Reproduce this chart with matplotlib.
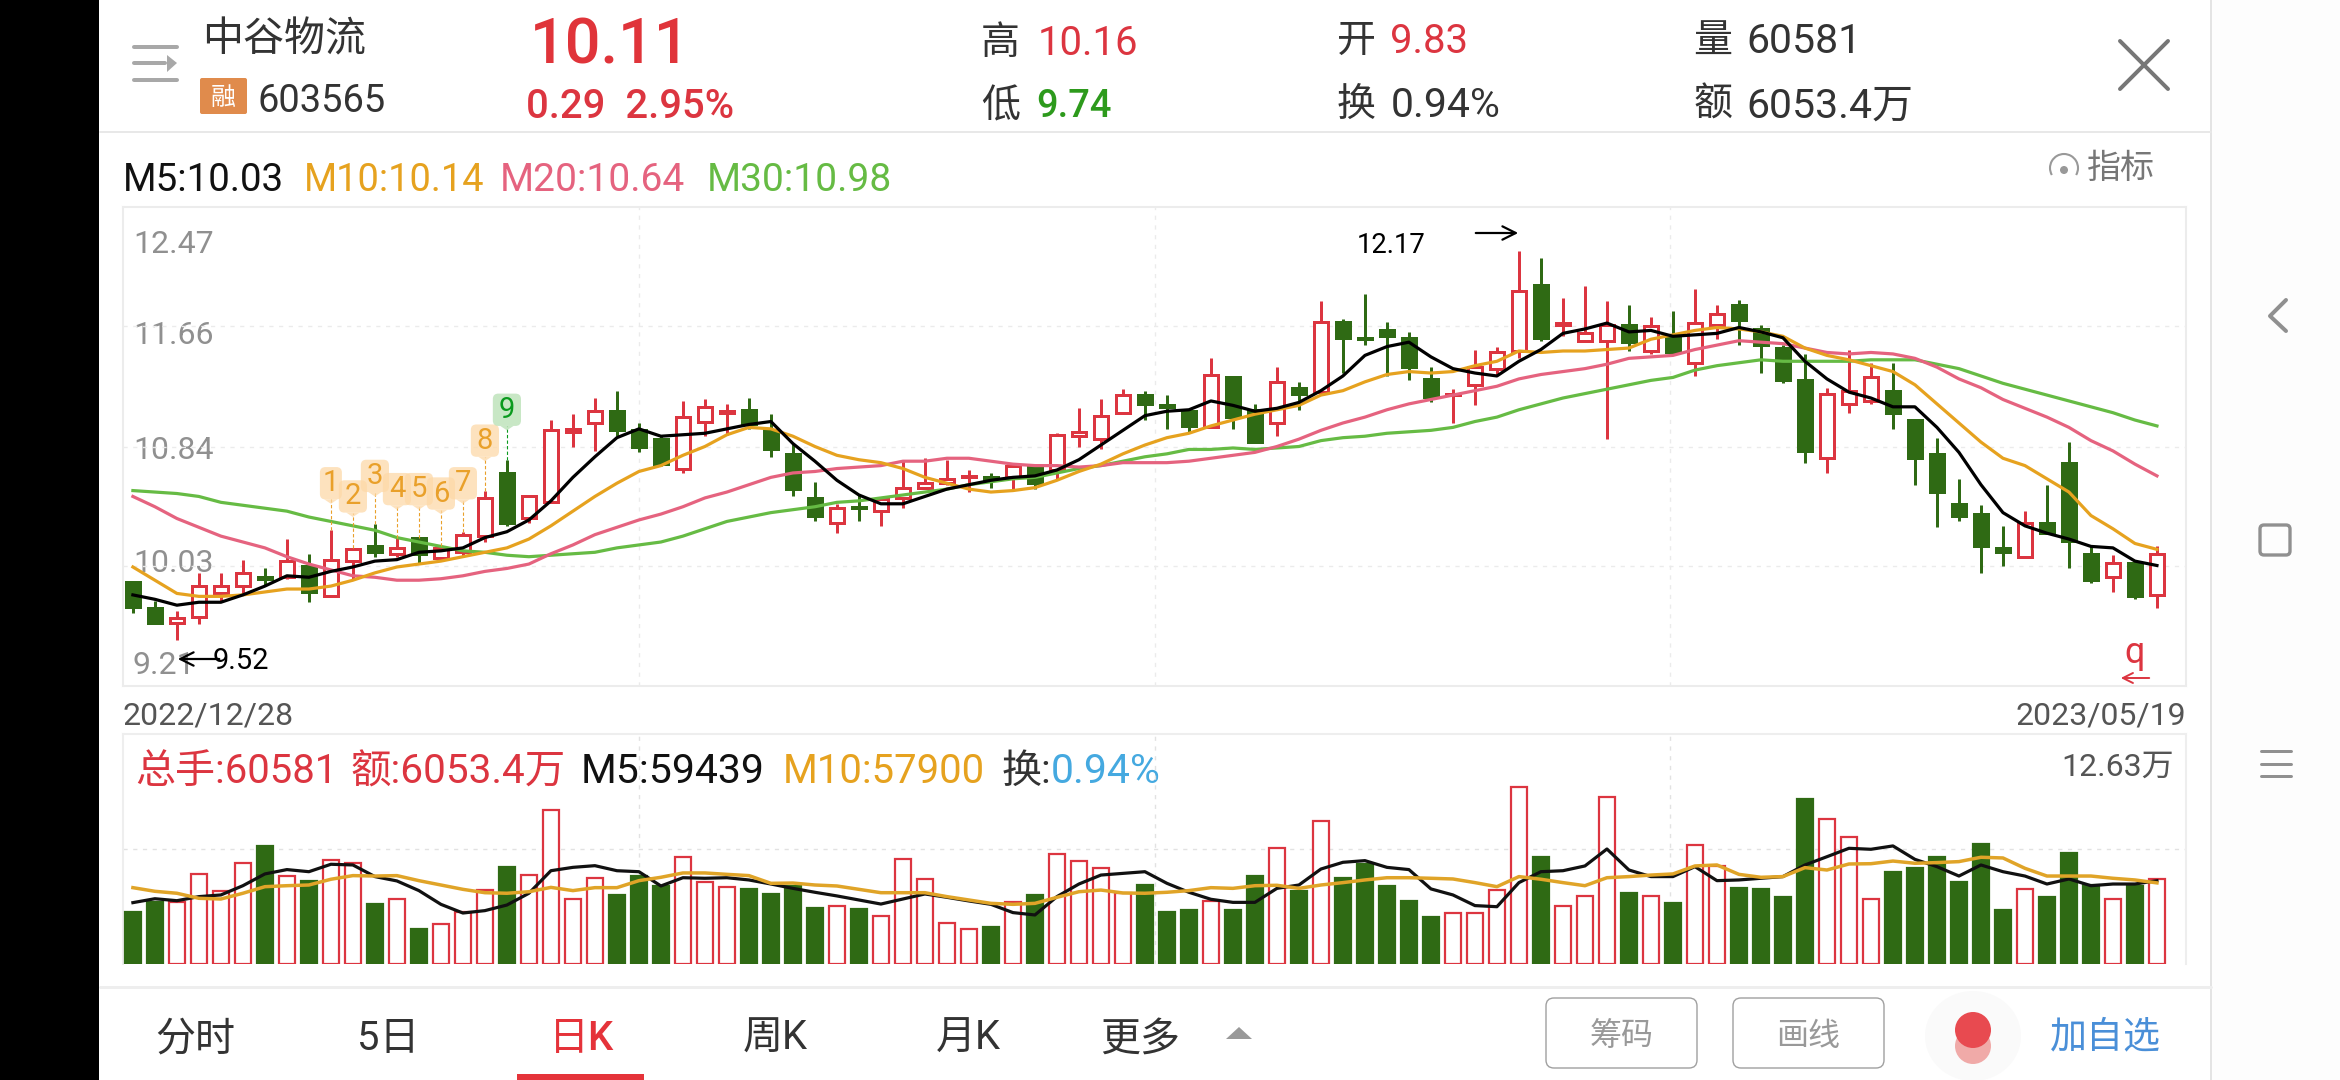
import numpy as np
import matplotlib
matplotlib.use('Agg')
import matplotlib.pyplot as plt
from matplotlib.patches import Rectangle, FancyBboxPatch, Ellipse, Arc, Polygon

plt.rcParams['font.family'] = ['Roboto', 'Noto Sans CJK SC', 'DejaVu Sans']

open_price = [9.92, 9.74, 9.64, 9.68, 9.84, 9.89, 9.95, 9.95, 10.03, 9.82, 10.06, 10.16, 10.11, 10.22, 10.08, 10.12,
              10.23, 10.66, 10.35, 10.46, 10.94, 11.00, 11.08, 10.95, 10.89, 10.69, 11.01, 11.07, 11.09, 10.95, 10.79,
              10.49, 10.32, 10.43, 10.40, 10.49, 10.56, 10.59, 10.63, 10.63, 10.63, 10.70, 10.68, 10.91, 10.89, 11.07,
              11.19, 11.12, 11.08, 10.97, 11.31, 11.09, 11.00, 11.24, 11.21, 11.69, 11.58, 11.63, 11.58, 11.30, 11.19,
              11.26, 11.37, 11.49, 11.94, 11.67, 11.56, 11.56, 11.67, 11.49, 11.59, 11.41, 11.67, 11.80, 11.64, 11.51,
              11.29, 10.76, 11.13, 11.15, 11.22, 11.02, 10.79, 10.45, 10.38, 10.15, 10.09, 10.32, 10.73, 10.11, 9.95,
              10.05, 9.83]
high_price = [9.92, 9.79, 9.72, 9.98, 9.98, 10.07, 10.01, 10.21, 10.11, 10.27, 10.15, 10.31, 10.22, 10.22, 10.16, 10.26,
              10.54, 10.75, 10.51, 11.02, 11.06, 11.17, 11.22, 11.00, 10.91, 11.15, 11.16, 11.13, 11.17, 11.06, 10.86,
              10.60, 10.45, 10.52, 10.49, 10.74, 10.76, 10.75, 10.68, 10.66, 10.71, 10.71, 10.93, 11.10, 11.16, 11.23,
              11.22, 11.19, 11.08, 11.44, 11.31, 11.13, 11.38, 11.28, 11.83, 11.71, 11.88, 11.69, 11.62, 11.38, 11.23,
              11.50, 11.52, 12.17, 12.12, 11.85, 11.93, 11.83, 11.80, 11.72, 11.76, 11.91, 11.80, 11.84, 11.67, 11.53,
              11.47, 11.24, 11.50, 11.41, 11.41, 11.02, 10.90, 10.62, 10.44, 10.30, 10.40, 10.58, 10.87, 10.16, 10.10,
              10.05, 10.16]
low_price = [9.71, 9.64, 9.52, 9.63, 9.79, 9.83, 9.89, 9.94, 9.78, 9.82, 9.93, 10.09, 10.09, 10.04, 10.07, 10.09,
             10.19, 10.30, 10.32, 10.46, 10.84, 10.81, 10.91, 10.80, 10.71, 10.66, 10.91, 10.92, 10.96, 10.77, 10.50,
             10.33, 10.25, 10.33, 10.30, 10.42, 10.55, 10.58, 10.53, 10.56, 10.55, 10.55, 10.62, 10.84, 10.82, 11.07,
             11.02, 10.96, 10.93, 10.97, 10.96, 10.87, 10.91, 11.09, 11.20, 11.34, 11.53, 11.32, 11.29, 11.14, 11.00,
             11.12, 11.33, 11.44, 11.56, 11.59, 11.55, 10.89, 11.49, 11.47, 11.47, 11.32, 11.57, 11.53, 11.34, 11.27,
             10.73, 10.66, 11.07, 11.13, 10.96, 10.58, 10.29, 10.33, 9.98, 10.03, 10.08, 10.25, 10.01, 9.91, 9.85,
             9.80, 9.74]
close_price = [9.75, 9.64, 9.67, 9.89, 9.89, 9.98, 9.94, 10.06, 9.85, 10.07, 10.14, 10.12, 10.15, 10.11, 10.15, 10.24,
               10.49, 10.32, 10.50, 10.95, 10.96, 11.08, 10.95, 10.84, 10.72, 11.04, 11.11, 11.08, 10.99, 10.82, 10.55,
               10.37, 10.42, 10.42, 10.48, 10.56, 10.59, 10.62, 10.64, 10.61, 10.71, 10.59, 10.92, 10.94, 11.05, 11.19,
               11.13, 11.11, 10.98, 11.33, 11.04, 10.87, 11.28, 11.20, 11.69, 11.58, 11.57, 11.59, 11.38, 11.18, 11.20,
               11.38, 11.48, 11.90, 11.58, 11.68, 11.61, 11.67, 11.55, 11.66, 11.48, 11.68, 11.74, 11.70, 11.53, 11.29,
               10.81, 11.20, 11.22, 11.31, 11.07, 10.76, 10.53, 10.37, 10.16, 10.12, 10.32, 10.25, 10.20, 9.93, 10.05,
               9.82, 10.11]

ma5 = [9.83, 9.80, 9.76, 9.78, 9.78, 9.83, 9.89, 9.96, 9.95, 9.99, 10.02, 10.06, 10.07, 10.12, 10.13, 10.15, 10.22,
       10.26, 10.34, 10.47, 10.63, 10.77, 10.90, 10.96, 10.91, 10.92, 10.93, 10.96, 10.99, 11.01, 10.86, 10.74, 10.61,
       10.51, 10.45, 10.45, 10.50, 10.55, 10.58, 10.61, 10.63, 10.64, 10.68, 10.75, 10.85, 10.95, 11.05, 11.08, 11.09,
       11.15, 11.12, 11.08, 11.10, 11.14, 11.22, 11.32, 11.46, 11.52, 11.55, 11.45, 11.37, 11.34, 11.32, 11.42, 11.50,
       11.61, 11.64, 11.68, 11.62, 11.63, 11.59, 11.60, 11.61, 11.65, 11.62, 11.58, 11.42, 11.30, 11.21, 11.17, 11.11,
       11.11, 10.97, 10.80, 10.58, 10.39, 10.30, 10.25, 10.21, 10.16, 10.15, 10.06, 10.03]
ma10 = [10.02, 9.93, 9.84, 9.82, 9.82, 9.83, 9.85, 9.87, 9.87, 9.89, 9.93, 9.98, 10.02, 10.04, 10.06, 10.09, 10.12,
        10.15, 10.21, 10.30, 10.40, 10.50, 10.59, 10.67, 10.71, 10.78, 10.84, 10.92, 10.97, 10.96, 10.91, 10.84, 10.78,
        10.75, 10.73, 10.69, 10.63, 10.59, 10.55, 10.53, 10.54, 10.56, 10.61, 10.67, 10.72, 10.79, 10.85, 10.90, 10.93,
        10.98, 11.02, 11.06, 11.09, 11.12, 11.19, 11.22, 11.28, 11.33, 11.35, 11.34, 11.35, 11.39, 11.42, 11.49, 11.48,
        11.49, 11.49, 11.50, 11.51, 11.57, 11.60, 11.63, 11.65, 11.64, 11.62, 11.59, 11.51, 11.46, 11.43, 11.39, 11.35,
        11.26, 11.13, 11.00, 10.87, 10.76, 10.71, 10.62, 10.53, 10.37, 10.28, 10.18, 10.14]
ma20 = [10.50, 10.43, 10.35, 10.29, 10.23, 10.19, 10.15, 10.09, 10.04, 10.00, 9.96, 9.95, 9.93, 9.93, 9.94, 9.96, 9.99,
        10.01, 10.04, 10.11, 10.17, 10.24, 10.29, 10.34, 10.38, 10.43, 10.49, 10.53, 10.58, 10.63, 10.66, 10.67, 10.69,
        10.70, 10.71, 10.74, 10.74, 10.76, 10.76, 10.74, 10.72, 10.71, 10.71, 10.70, 10.71, 10.73, 10.73, 10.73, 10.74,
        10.76, 10.78, 10.80, 10.84, 10.89, 10.95, 11.00, 11.04, 11.09, 11.13, 11.16, 11.19, 11.22, 11.25, 11.30, 11.33,
        11.35, 11.37, 11.40, 11.44, 11.45, 11.46, 11.50, 11.53, 11.56, 11.55, 11.54, 11.51, 11.48, 11.47, 11.48, 11.47,
        11.44, 11.38, 11.30, 11.24, 11.16, 11.10, 11.04, 10.97, 10.88, 10.81, 10.72, 10.64]
ma30 = [10.54, 10.53, 10.52, 10.50, 10.46, 10.44, 10.42, 10.40, 10.36, 10.33, 10.30, 10.27, 10.22, 10.19, 10.16, 10.13,
        10.12, 10.10, 10.09, 10.10, 10.11, 10.12, 10.15, 10.17, 10.19, 10.23, 10.28, 10.33, 10.36, 10.39, 10.41, 10.43,
        10.46, 10.47, 10.49, 10.51, 10.53, 10.55, 10.58, 10.60, 10.62, 10.63, 10.66, 10.69, 10.71, 10.74, 10.77, 10.79,
        10.82, 10.82, 10.83, 10.82, 10.83, 10.84, 10.88, 10.90, 10.91, 10.93, 10.94, 10.95, 10.97, 11.01, 11.04, 11.09,
        11.13, 11.17, 11.20, 11.23, 11.26, 11.29, 11.31, 11.36, 11.39, 11.41, 11.43, 11.42, 11.42, 11.42, 11.42, 11.43,
        11.43, 11.43, 11.40, 11.37, 11.32, 11.27, 11.23, 11.19, 11.15, 11.11, 11.07, 11.02, 10.98]

volume = [37100, 44500, 44500, 64300, 52100, 72400, 84300, 63100, 59300, 74300, 71900, 42800, 46600, 25000, 28800, 37400,
          52800, 69300, 63800, 110200, 46600, 61600, 49300, 62800, 55900, 76600, 58300, 55200, 53600, 50000, 55900,
          40000, 41700, 39300, 34500, 75200, 60900, 29500, 25200, 26400, 44500, 49300, 78800, 73800, 68800, 50500,
          56400, 37100, 38600, 45000, 38600, 62800, 83100, 52100, 102300, 61400, 71400, 55700, 45000, 33600, 36700,
          36700, 53100, 126300, 76400, 41400, 48600, 119500, 50700, 48600, 43600, 85000, 70000, 54300, 53600, 47800,
          117800, 103500, 90700, 46400, 65700, 68500, 76400, 58500, 85700, 38600, 53600, 47800, 79300, 56400, 46400,
          55700, 60581]
vol_ma5 = [43800, 46600, 45200, 48100, 49300, 55900, 64300, 67400, 65900, 71200, 70700, 62400, 59300, 52400, 42600, 36400,
           38100, 42100, 50500, 66600, 69000, 70200, 66600, 65900, 55700, 61600, 61200, 61600, 60000, 57100, 54000,
           51200, 48600, 45700, 42800, 46400, 50000, 47600, 45000, 42600, 36700, 35000, 48100, 57100, 63500, 64700,
           65900, 57600, 51200, 46200, 44000, 44000, 54000, 56400, 67800, 72600, 73800, 69000, 67400, 53600, 49300,
           41700, 40900, 58100, 65900, 66600, 70000, 82100, 67100, 62400, 62400, 69500, 59500, 60000, 61200, 62400,
           70700, 76600, 82600, 81900, 84300, 74700, 69500, 62800, 70700, 65900, 62800, 57100, 60700, 55900, 57100,
           57100, 59439]
vol_ma10 = [54500, 51900, 50500, 46900, 46400, 50500, 55200, 55900, 56400, 60500, 63100, 62800, 63100, 59500, 56400, 53300,
            50900, 50500, 51600, 54700, 52400, 54500, 54500, 59500, 61900, 65000, 65000, 64000, 63100, 57600, 57800,
            56400, 55700, 53300, 50900, 50900, 50900, 48100, 45700, 43300, 42600, 43300, 47600, 51600, 52800, 50700,
            50500, 51200, 52400, 54500, 54000, 55900, 56200, 54000, 56400, 58100, 60000, 61600, 61600, 61200, 60700,
            58100, 55200, 62400, 60500, 58100, 55900, 61600, 62400, 63500, 64300, 70000, 70700, 64000, 61900, 62400,
            68800, 67100, 71400, 71600, 73500, 71900, 72400, 73100, 76200, 75700, 68300, 62800, 62800, 62800, 61200,
            60000, 57900]

price_ticks = [12.47, 11.66, 10.84, 10.03, 9.21]
td_labels = ['1', '2', '3', '4', '5', '6', '7', '8', '9']
td_index = [9, 10, 11, 12, 13, 14, 15, 16, 17]
td_price = [10.59, 10.50, 10.64, 10.55, 10.55, 10.52, 10.59, 10.88, 11.09]

RED = '#dc3540'
GREEN = '#2f6a14'
ORANGE = '#e6a21f'
PINK = '#e5637f'
LIME = '#66bb44'
W, H = 2340, 1080

fig = plt.figure(figsize=(W / 100, H / 100), dpi=100, facecolor='white')

# screen furniture, drawn in pixel coordinates
bg = fig.add_axes([0, 0, 1, 1], zorder=0)
bg.set_xlim(0, W)
bg.set_ylim(H, 0)
bg.axis('off')


def pos(left, top, right, bottom):
    return [left / W, 1 - bottom / H, (right - left) / W, (bottom - top) / H]


def txt(x, y, s, px, color='#333333', ha='left', weight='normal', ax=bg):
    return ax.text(x, y + px * 0.09, s, fontsize=px * 0.72, color=color, ha=ha, va='center', fontweight=weight)


def line(xs, ys, color, lw=3):
    bg.plot(xs, ys, color=color, lw=lw * 0.72, solid_capstyle='round')


bg.add_patch(Rectangle((0, 0), 99, H, color='black', lw=0))
bg.add_patch(Rectangle((2211, 0), W - 2211, H, color='#fdfdfd', lw=0))
line([2211, 2211], [0, H], '#e4e4e4', 2)
line([100, 2211], [132, 132], '#e8e8e8', 2)
line([100, 2211], [987, 987], '#eeeeee', 3)

# header
line([134, 177], [47, 47], '#a8a8a8', 4)
line([134, 165], [63, 63], '#a8a8a8', 4)
line([134, 177], [80, 80], '#a8a8a8', 4)
bg.add_patch(Polygon([[167, 55], [177, 63], [167, 72]], color='#a8a8a8', lw=0))
txt(202, 36, '中谷物流', 41)
bg.add_patch(FancyBboxPatch((202, 80), 43, 32, boxstyle='round,pad=2', color='#e08b4c', lw=0))
txt(223.5, 96, '融', 25, 'white', ha='center')
txt(257, 98, '603565', 38)
txt(530, 41, '10.11', 63, '#e0343a', weight='medium')
txt(526, 103, '0.29  2.95%', 40, RED, weight='medium')
txt(981, 40, '高', 39)
txt(1038, 40, '10.16', 40, RED)
txt(981, 103, '低', 39)
txt(1036, 103, '9.74', 38, '#2d9a1c', weight='medium')
txt(1337, 38, '开', 39)
txt(1390, 38, '9.83', 40, RED)
txt(1337, 102, '换', 39)
txt(1391, 102, '0.94%', 41)
txt(1693, 38, '量', 39)
txt(1746, 38, '60581', 41)
txt(1693, 102, '额', 39)
txt(1746, 102, '6053.4万', 41)
line([2120, 2168], [41, 89], '#777777', 4)
line([2120, 2168], [89, 41], '#777777', 4)

txt(123, 177, 'M5:10.03', 38.5, '#111111')
txt(304, 177, 'M10:10.14', 38, ORANGE)
txt(500, 177, 'M20:10.64', 39, PINK)
txt(707, 177, 'M30:10.98', 39, LIME)
bg.add_patch(Arc((2064, 168), 28, 28, theta1=150, theta2=390, color='#999999', lw=1.5))
bg.add_patch(Ellipse((2064, 170), 8, 8, color='#999999', lw=0))
txt(2087, 166, '指标', 34, '#777777')

# price tick labels sit under the candles
for p, y in zip(price_ticks, [242, 333, 448, 561, 663]):
    txt(133, y, '%.2f' % p, 32, '#909090')

txt(123, 713, '2022/12/28', 32, '#555555')
txt(2186, 713, '2023/05/19', 32, '#555555', ha='right')

# volume header
txt(135, 768, '总手:60581', 40, RED)
txt(350, 768, '额:6053.4万', 40.5, RED)
txt(581, 768, 'M5:59439', 41, '#111111')
txt(783, 768, 'M10:57900', 40, ORANGE)
txt(1002, 768, '换:', 40)
txt(1051, 768, '0.94%', 41, '#45a9e0')
txt(2174, 764, '12.63万', 32, '#555555', ha='right')

# bottom tabs
for x, s in [(155, '分时'), (357, '5日'), (743, '周K'), (936, '月K'), (1100, '更多')]:
    txt(x, 1035, s, 40)
txt(549, 1035, '日K', 40, '#e5333a', weight='medium')
bg.add_patch(Rectangle((517, 1074), 127, 6, color='#e5333a', lw=0))
bg.add_patch(Polygon([[1226, 1039], [1252, 1039], [1239, 1027]], color='#999999', lw=0))
for x0, s in [(1546, '筹码'), (1733, '画线')]:
    bg.add_patch(FancyBboxPatch((x0 + 8, 1006), 135, 54, boxstyle='round,pad=8', fc='white', ec='#a0a0a0', lw=1.0))
    txt(x0 + 75.5, 1033, s, 32, '#999999', ha='center')
bg.add_patch(Ellipse((1973, 1036), 96, 90, color='#fafafa', lw=0))
bg.add_patch(Ellipse((1973, 1046), 36, 36, color='#f0aaa8', lw=0))
bg.add_patch(Ellipse((1973, 1030), 36, 36, color='#e84a50', lw=0))
txt(2050, 1034, '加自选', 37, '#4a8fd8')

# navigation bar
line([2286, 2270, 2286], [300, 316, 331], '#909090', 4)
bg.add_patch(FancyBboxPatch((2264, 529), 22, 22, boxstyle='round,pad=4', fc='none', ec='#909090', lw=2.4))
for y in [751, 764, 776]:
    line([2261, 2291], [y, y], '#909090', 3)

x = np.arange(len(close_price))
open_arr = np.array(open_price)
close_arr = np.array(close_price)
up = close_arr >= open_arr
colors = [RED if u else GREEN for u in up]
faces = ['white' if u else GREEN for u in up]
xlim = (-0.45, 93.32)
vgrid = [xlim[0] + (xlim[1] - xlim[0]) * k / 4 for k in (1, 2, 3)]

# candles
ax = fig.add_axes(pos(123, 207, 2186, 686), zorder=1)
ax.patch.set_alpha(0)
ax.vlines(x, low_price, high_price, colors=colors, lw=2.16, zorder=2)
ax.bar(x, np.abs(close_arr - open_arr), bottom=np.minimum(open_arr, close_arr), width=0.66,
       facecolor=faces, edgecolor=colors, lw=2.16, zorder=3)
ax.plot(x, ma30, color=LIME, lw=2.3, zorder=4)
ax.plot(x, ma20, color=PINK, lw=2.3, zorder=4)
ax.plot(x, ma10, color=ORANGE, lw=2.3, zorder=5)
ax.plot(x, ma5, color='black', lw=2.3, zorder=6)
ax.set_xlim(xlim)
ax.set_ylim(price_ticks[-1], price_ticks[0])
ax.set_xticks(vgrid)
ax.set_yticks(price_ticks[1:-1])
ax.tick_params(length=0, labelbottom=False, labelleft=False)
ax.grid(True, ls=(0, (3, 4)), color='#ebebeb', lw=1)
ax.set_axisbelow(True)
for s in ax.spines.values():
    s.set_color('#ececec')
    s.set_linewidth(1.5)

# nine-turn markers: callout box, tip and dashed stem
for lab, i, p in zip(td_labels, td_index, td_price):
    nine = lab == '9'
    fc = '#b6dfb2' if nine else '#fdd9a8'
    fg = '#0a9a1e' if nine else '#e9a02a'
    half = 0.5 if lab == '1' else 0.64
    ax.vlines(i, high_price[i], p - 0.11, colors=fg, lw=0.8, ls=(0, (3, 2)), zorder=7)
    ax.add_patch(FancyBboxPatch((i - half, p - 0.11), 2 * half, 0.22, boxstyle='round,pad=0,rounding_size=0.25',
                                mutation_aspect=0.15, fc=fc, ec='none', alpha=0.75, zorder=7))
    ax.add_patch(Polygon([[i - 0.3, p - 0.11], [i + 0.3, p - 0.11], [i, p - 0.14]], fc=fc, ec='none', alpha=0.75, zorder=7))
    ax.text(i, p, lab, fontsize=21, color=fg, ha='center', va='center', zorder=8)

# high and low marks
over = fig.add_axes([0, 0, 1, 1], zorder=2)
over.set_xlim(0, W)
over.set_ylim(H, 0)
over.axis('off')
txt(1357, 243, '12.17', 27.5, 'black', ax=over)
over.annotate('', xy=(1521, 233), xytext=(1473, 233), arrowprops=dict(arrowstyle='->', color='black', lw=1.6, mutation_scale=24))
over.annotate('', xy=(175, 659), xytext=(222, 659), arrowprops=dict(arrowstyle='->', color='black', lw=1.6, mutation_scale=24))
txt(213, 658, '9.52', 29, 'black', ax=over)
over.annotate('', xy=(2118, 678), xytext=(2152, 678), arrowprops=dict(arrowstyle='->', color=RED, lw=1.4, mutation_scale=18))
txt(2135, 650, 'q', 36, RED, ha='center', ax=over)

# volume
vx = fig.add_axes(pos(123, 734, 2186, 964), zorder=1)
vx.patch.set_alpha(0)
vx.bar(x, volume, width=0.7, facecolor=faces, edgecolor=colors, lw=1.6, zorder=3)
vx.plot(x, vol_ma5, color='#111111', lw=2.3, zorder=5)
vx.plot(x, vol_ma10, color='#e0a428', lw=2.5, zorder=6)
vx.set_xlim(xlim)
vx.set_ylim(0, 164200)
vx.set_xticks(vgrid)
vx.set_yticks([82100])
vx.tick_params(length=0, labelbottom=False, labelleft=False)
vx.grid(True, ls=(0, (3, 4)), color='#e2e2e2', lw=1)
vx.set_axisbelow(True)
for s in vx.spines.values():
    s.set_color('#eeeeee')
    s.set_linewidth(1.5)
vx.spines['bottom'].set_visible(False)

fig.savefig('out.png', dpi=100)
